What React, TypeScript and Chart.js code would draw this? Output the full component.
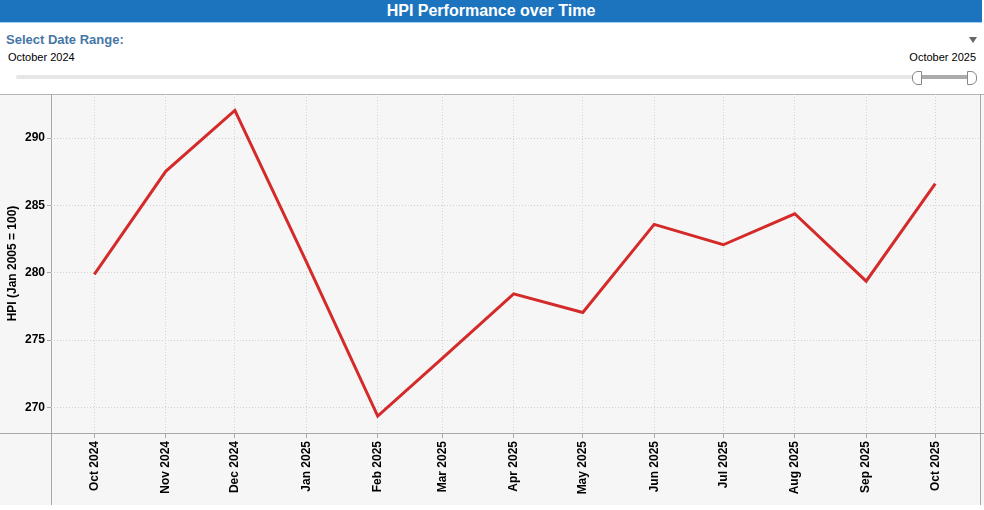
import React, { useEffect, useRef } from "react";
import { Chart, registerables } from "chart.js";

Chart.register(...registerables);

const monthLabels = [
  "Oct 2024", "Nov 2024", "Dec 2024", "Jan 2025", "Feb 2025", "Mar 2025", "Apr 2025",
  "May 2025", "Jun 2025", "Jul 2025", "Aug 2025", "Sep 2025", "Oct 2025",
];
const hpiValues = [
  279.88, 287.53, 292.05, 280.83, 269.37, 273.65, 278.44,
  277.05, 283.59, 282.08, 284.38, 279.38, 286.61,
];
const yTickValues = [270, 275, 280, 285, 290];
const rangeStartLabel = "October 2024";
const rangeEndLabel = "October 2025";

const MONTHS = ["Jan", "Feb", "Mar", "Apr", "May", "Jun", "Jul", "Aug", "Sep", "Oct", "Nov", "Dec"];
const DAY = 86400000;
function labelToDays(label: string, base: number): number {
  const [m, y] = label.split(" ");
  return (Date.UTC(Number(y), MONTHS.indexOf(m), 1) - base) / DAY;
}
const baseTime = (() => {
  const [m, y] = monthLabels[0].split(" ");
  return Date.UTC(Number(y), MONTHS.indexOf(m), 1);
})();
const monthDays = monthLabels.map((l) => labelToDays(l, baseTime));

const FONT = "Arial, 'Liberation Sans', Helvetica, sans-serif";

const panelPlugin = {
  id: "panelPlugin",
  beforeDraw(chart: any) {
    const { ctx, width, chartArea } = chart;
    const panelBottom = 411;
    ctx.save();
    ctx.fillStyle = "#f6f6f6";
    ctx.fillRect(0, 0, width, panelBottom);
    ctx.strokeStyle = "#b4b4b4";
    ctx.lineWidth = 1;
    ctx.beginPath();
    ctx.moveTo(0, 0.5);
    ctx.lineTo(width, 0.5);
    ctx.stroke();
    ctx.strokeStyle = "#a8a8a8";
    ctx.beginPath();
    ctx.moveTo(Math.round(chartArea.left) + 0.5, 0);
    ctx.lineTo(Math.round(chartArea.left) + 0.5, panelBottom);
    ctx.moveTo(Math.round(chartArea.right) + 0.5, 0);
    ctx.lineTo(Math.round(chartArea.right) + 0.5, panelBottom);
    ctx.moveTo(0, Math.round(chartArea.bottom) + 0.5);
    ctx.lineTo(width, Math.round(chartArea.bottom) + 0.5);
    ctx.stroke();
    ctx.restore();
  },
};

function HpiChart() {
  const ref = useRef<HTMLCanvasElement>(null);
  useEffect(() => {
    if (!ref.current) return;
    const chart = new Chart(ref.current, {
      type: "line",
      data: {
        datasets: [
          {
            data: monthDays.map((d, i) => ({ x: d, y: hpiValues[i] })),
            borderColor: "#d42a2a",
            borderWidth: 3,
            pointRadius: 0,
            tension: 0,
            fill: false,
          },
        ],
      },
      options: {
        animation: false,
        responsive: false,
        events: [],
        layout: { padding: { left: 0, right: 4, top: 0, bottom: 0 } },
        plugins: { legend: { display: false }, tooltip: { enabled: false }, title: { display: false } },
        scales: {
          x: {
            type: "linear",
            min: -18.8,
            max: 384.4,
            afterBuildTicks: (scale: any) => {
              scale.ticks = monthDays.map((v) => ({ value: v }));
            },
            afterFit: (scale: any) => {
              scale.height = 77;
              scale.paddingLeft = 0;
              scale.paddingRight = 0;
            },
            ticks: {
              autoSkip: false,
              maxRotation: 90,
              minRotation: 90,
              padding: 3,
              color: "#000",
              font: { family: FONT, size: 12, weight: "bold" },
              callback: (v: any) => {
                const i = monthDays.indexOf(Number(v));
                return i >= 0 ? monthLabels[i] : "";
              },
            },
            grid: {
              color: "#d2d2d2",
              tickBorderDash: [],
              tickColor: "#a8a8a8",
              tickLength: 5,
              lineWidth: 1,
            },
            border: { display: false, dash: [1, 2] },
          },
          y: {
            type: "linear",
            min: 268.11,
            max: 293.27,
            afterBuildTicks: (scale: any) => {
              scale.ticks = yTickValues.map((v) => ({ value: v }));
            },
            afterFit: (scale: any) => {
              scale.width = 51;
              scale.paddingTop = 0;
              scale.paddingBottom = 0;
            },
            ticks: {
              padding: 2,
              color: "#000",
              font: { family: FONT, size: 12, weight: "bold" },
            },
            grid: {
              color: "#d2d2d2",
              tickBorderDash: [],
              tickColor: "#a8a8a8",
              tickLength: 4,
              lineWidth: 1,
            },
            border: { display: false, dash: [1, 2] },
            title: {
              display: true,
              text: "HPI (Jan 2005 = 100)",
              color: "#000",
              font: { family: FONT, size: 12, weight: "bold" },
              padding: { top: 5, bottom: 0 },
            },
          },
        },
      } as any,
      plugins: [panelPlugin],
    });
    return () => chart.destroy();
  }, []);
  return <canvas ref={ref} width={984} height={416} style={{ display: "block", width: 984, height: 416 }} />;
}

export default function App() {
  return (
    <div style={{ position: "fixed", left: 0, top: 0, width: 984, height: 510, background: "#fff", fontFamily: FONT, overflow: "hidden" }}>
      <div
        style={{
          position: "absolute", left: 0, top: 0, width: 982, height: 22,
          background: "#1c74bf", borderBottom: "1px solid #9fd0f2",
          color: "#fff", fontWeight: "bold", fontSize: 16, lineHeight: "22px", textAlign: "center",
        }}
      >
        HPI Performance over Time
      </div>
      <div style={{ position: "absolute", left: 6, top: 32, fontSize: 13, fontWeight: "bold", color: "#4577a6", lineHeight: "16px", whiteSpace: "nowrap" }}>
        Select Date Range:
      </div>
      <div style={{ position: "absolute", left: 969, top: 37, width: 0, height: 0, borderLeft: "4px solid transparent", borderRight: "4px solid transparent", borderTop: "6px solid #666" }} />
      <div style={{ position: "absolute", left: 8, top: 51, fontSize: 11, color: "#000", lineHeight: "13px", whiteSpace: "nowrap" }}>
        {rangeStartLabel}
      </div>
      <div style={{ position: "absolute", right: 984 - 976, top: 51, fontSize: 11, color: "#000", lineHeight: "13px", whiteSpace: "nowrap" }}>
        {rangeEndLabel}
      </div>
      <div style={{ position: "absolute", left: 16, top: 75, width: 958, height: 4, background: "#e6e6e6", borderRadius: 2 }} />
      <div style={{ position: "absolute", left: 918, top: 75, width: 52, height: 4, background: "#ababab" }} />
      <div style={{ position: "absolute", left: 912, top: 71, width: 8, height: 12, background: "#fff", border: "1px solid #888", borderRadius: "6px 0 0 6px" }} />
      <div style={{ position: "absolute", left: 967, top: 71, width: 8, height: 12, background: "#fff", border: "1px solid #888", borderRadius: "0 6px 6px 0" }} />
      <div style={{ position: "absolute", left: 0, top: 94 }}>
        <HpiChart />
      </div>
    </div>
  );
}
